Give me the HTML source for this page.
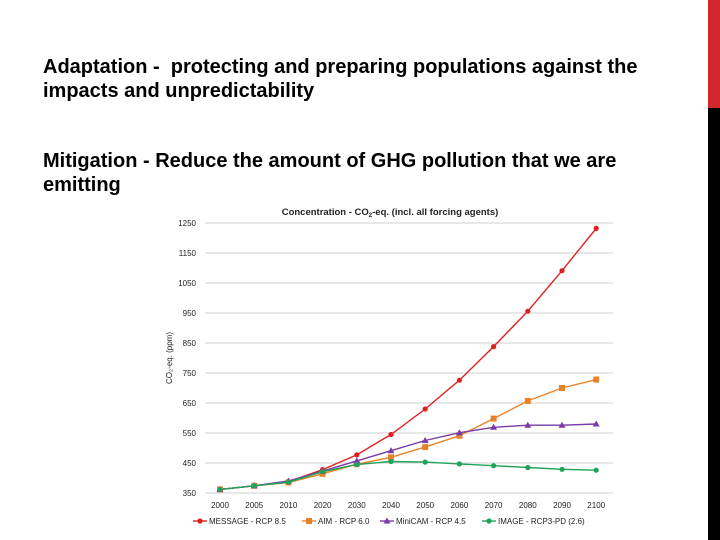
<!DOCTYPE html>
<html><head><meta charset="utf-8"><style>
body{margin:0;width:720px;height:540px;background:#fff;position:relative;overflow:hidden;font-family:"Liberation Sans",sans-serif}
.t{position:absolute;left:43px;font-size:20px;line-height:24px;color:#000;font-weight:bold}
</style></head><body>
<div style="position:absolute;left:708px;top:0;width:12px;height:108px;background:#d0282e"></div>
<div style="position:absolute;left:708px;top:108px;width:12px;height:432px;background:#000"></div>
<div class="t" style="top:55px">Adaptation -&nbsp; protecting and preparing populations against the<br>impacts and unpredictability</div>
<div class="t" style="top:149px">Mitigation - Reduce the amount of GHG pollution that we are<br>emitting</div>
<svg id="chart" style="position:absolute;left:0;top:0" width="720" height="540"></svg>
<script>
const years=["2000","2005","2010","2020","2030","2040","2050","2060","2070","2080","2090","2100"];
const yTicks=[350,450,550,650,750,850,950,1050,1150,1250];
const message=[362,374,388,428,477,545,630,726,838,956,1091,1232];
const aim=[362,374,385,414,446,469,503,541,598,657,700,728];
const minicam=[362,374,390,423,457,491,525,551,569,576,576,580];
const image=[362,374,386,421,445,455,453,447,441,435,429,426];
const svg=document.getElementById('chart');const NS='http://www.w3.org/2000/svg';
function mk(t,a,p){const e=document.createElementNS(NS,t);for(const k in a)e.setAttribute(k,a[k]);(p||svg).appendChild(e);return e;}
const y=v=>493-(v-350)*0.3;
const x=i=>220+i*34.2;
yTicks.forEach(v=>{
 const l=mk('line',{x1:205,x2:613,y1:y(v),y2:y(v),stroke:'#d0d0d0','stroke-width':1});
 
 const t=mk('text',{x:196,y:y(v)+3,'font-size':8,'text-anchor':'end',fill:'#222'});t.textContent=v;
 
});
years.forEach((yr,i)=>{const t=mk('text',{x:x(i),y:508,'font-size':8,'text-anchor':'middle',fill:'#222'});t.textContent=yr;
 });
const tt=mk('text',{x:390,y:215,'font-size':9.5,'text-anchor':'middle','font-weight':'bold',fill:'#222'});
tt.innerHTML='Concentration - CO<tspan font-size="6" dy="2">2</tspan><tspan dy="-2">-eq. (incl. all forcing agents)</tspan>';

const yt=mk('text',{transform:'translate(172,358) rotate(-90)','font-size':8,'text-anchor':'middle',fill:'#222'});
yt.textContent='CO₂-eq. (ppm)';

const series=[[message,'#e0201f','circle','message-rcp85'],[aim,'#e8822a','square','aim-rcp60'],[minicam,'#7a3aa8','tri','minicam-rcp45'],[image,'#1fa35a','circle','image-rcp26']];
function marker(cx,cy,c,s,g){
 if(s==='square')return mk('rect',{x:cx-3,y:cy-3,width:6,height:6,fill:c},g);
 if(s==='tri')return mk('polygon',{points:`${cx},${cy-3.5} ${cx-3.5},${cy+2.5} ${cx+3.5},${cy+2.5}`,fill:c},g);
 return mk('circle',{cx:cx,cy:cy,r:2.6,fill:c},g);
}
series.forEach(([d,c,s,n])=>{
 const g=mk('g',{});
 mk('polyline',{points:d.map((v,i)=>x(i)+','+y(v)).join(' '),fill:'none',stroke:c,'stroke-width':1.4},g);
 d.forEach((v,i)=>{const m=marker(x(i),y(v),c,s,g);});
});
const leg=[['MESSAGE - RCP 8.5',193],['AIM - RCP 6.0',302],['MiniCAM - RCP 4.5',380],['IMAGE - RCP3-PD (2.6)',482]];
leg.forEach(([lab,lx],k)=>{
 const [d,c,s,n]=series[k];
 const g=mk('g',{});
 mk('line',{x1:lx,x2:lx+14,y1:521,y2:521,stroke:c,'stroke-width':1.4},g);
 marker(lx+7,521,c,s,g);
 const t=mk('text',{x:lx+16,y:524,'font-size':8,fill:'#222'},g);t.textContent=lab;
});
</script>
</body></html>
